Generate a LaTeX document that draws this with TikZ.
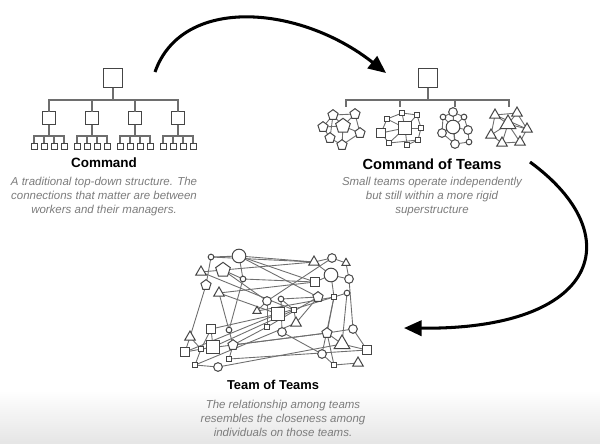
\documentclass[tikz,border=0pt]{standalone}
\usepackage{fontspec}
\setmainfont{Liberation Sans}
\usepackage{xcolor}
\usepackage{tikz}
\usetikzlibrary{arrows.meta,shapes.geometric}
\definecolor{ink}{HTML}{454545}
\definecolor{wire}{HTML}{6E6E6E}
\definecolor{muted}{HTML}{7C7C7C}
\pgfdeclarelayer{back}
\pgfsetlayers{back,main}
\tikzset{
  member/.style={draw=ink, line width=0.85pt, fill=white, inner sep=0pt, outer sep=0pt},
  box/.style={member, rectangle, line width=1pt, minimum size=#1},
  sqS/.style={member, rectangle, minimum size=0.16cm},
  sqM/.style={member, rectangle, minimum size=0.26cm},
  sqL/.style={member, rectangle, minimum size=0.38cm},
  ciS/.style={member, circle, minimum size=0.17cm},
  ciM/.style={member, circle, minimum size=0.26cm},
  ciL/.style={member, circle, minimum size=0.41cm},
  peM/.style={member, regular polygon, regular polygon sides=5, minimum size=0.32cm},
  peL/.style={member, regular polygon, regular polygon sides=5, minimum size=0.46cm},
  trS/.style={member, regular polygon, regular polygon sides=3, minimum size=0.28cm},
  trM/.style={member, regular polygon, regular polygon sides=3, minimum size=0.36cm},
  trL/.style={member, regular polygon, regular polygon sides=3, minimum size=0.54cm},
  link/.style={draw=wire, line width=0.75pt},
  tree/.style={draw=wire, line width=0.9pt},
  bigarrow/.style={draw=black, line width=2.6pt, -{Triangle[length=15pt, width=13pt]}},
  title/.style={font=\bfseries\fontsize{12}{14}\selectfont, text=black, inner sep=0pt},
  caption/.style={font=\itshape\fontsize{9.8}{11.95}\selectfont, text=muted, align=center, inner sep=0pt}
}

\begin{document}
\begin{tikzpicture}[x=0.03cm, y=-0.03cm]
  \useasboundingbox (0,0) rectangle (600,443);
  \begin{pgfonlayer}{back}
    \fill[white] (0,0) rectangle (600,443);
    \shade[top color=white, bottom color=black!10] (0,390) rectangle (600,443);
  \end{pgfonlayer}

  % command
  \node[box=0.57cm] (top) at (113,78) {};
  \foreach \i/\x in {1/49,2/92,3/135,4/178} {
    \node[box=0.39cm] (m\i) at (\x,118) {};
    \draw[tree] (top.south) -- ++(0,12.5) -| (m\i.north);
    \foreach \j/\d in {1/-15,2/-5,3/5,4/15} {
      \node[box=0.18cm, line width=0.8pt] (l\i\j) at ({\x+\d},146) {};
      \draw[tree] (m\i.south) -- ++(0,11.5) -| (l\i\j.north);
    }
  }
  \node[title, font=\bfseries\fontsize{11.5}{14}\selectfont] (cmd) at (104,163) {Command};
  \node[caption, anchor=north] (cmdtxt) at (104,177)
  {A traditional top-down structure. The\\
   connections that matter are between\\
   workers and their managers.};

  % command of teams
  \node[box=0.57cm] (ctop) at (428,78) {};
  \foreach \i/\x in {1/346,2/400,3/455,4/509} {
    \coordinate (ct\i) at (\x,107);
    \draw[tree] (ctop.south) -- ++(0,12.5) -| (ct\i);
  }

  \node[peL] (p0) at (343,126) {};
  \node[peM] (p1) at (333,115) {};
  \node[peM] (p2) at (355,114) {};
  \node[peM] (p3) at (323,127) {};
  \node[peM] (p4) at (360,133) {};
  \node[peM] (p5) at (330,138) {};
  \node[peM] (p6) at (342,145) {};

  \node[sqL] (q0) at (405,128) {};
  \node[sqS] (q1) at (402,113) {};
  \node[sqS] (q2) at (417,115) {};
  \node[sqS] (q3) at (387,119) {};
  \node[sqM] (q4) at (381,133) {};
  \node[sqS] (q5) at (421,128) {};
  \node[sqS] (q6) at (389,143) {};
  \node[sqS] (q7) at (407,145) {};
  \node[sqS] (q8) at (418,140) {};

  \node[ciL] (c0) at (453,127) {};
  \node[ciM] (c1) at (453,112) {};
  \node[ciS] (c2) at (464,117) {};
  \node[ciS] (c3) at (443,117) {};
  \node[ciM] (c4) at (442,133) {};
  \node[ciM] (c5) at (468,130) {};
  \node[ciM] (c6) at (455,144) {};
  \node[ciS] (c7) at (469,142) {};

  \node[trL] (t0) at (508,124) {};
  \node[trM] (t1) at (495,115) {};
  \node[trM] (t2) at (517,113) {};
  \node[trM] (t3) at (527,129) {};
  \node[trM] (t4) at (491,135) {};
  \node[trM] (t5) at (502,143) {};
  \node[trM] (t6) at (520,142) {};

  \begin{pgfonlayer}{back}
    \foreach \a/\b in {1/2,1/0,2/4,3/0,3/5,0/4,0/6,5/6,1/5,2/0,6/4,3/1}
      \draw[link] (p\a) -- (p\b);
    \foreach \a/\b in {1/0,1/2,3/0,3/4,4/0,0/5,2/5,0/7,6/0,6/8,5/8,3/1,4/6,2/0,7/8}
      \draw[link] (q\a) -- (q\b);
    \foreach \a/\b in {1/0,1/2,3/0,3/4,4/0,0/5,2/5,0/6,6/7,5/7,4/6,3/1,2/0,1/6}
      \draw[link] (c\a) -- (c\b);
    \foreach \a/\b in {1/2,1/0,2/3,0/3,4/0,4/5,0/5,5/6,3/6,1/4,2/0,0/6,1/3}
      \draw[link] (t\a) -- (t\b);
  \end{pgfonlayer}

  \node[title, font=\bfseries\fontsize{12.5}{14}\selectfont] (cot) at (432,164) {Command of Teams};
  \node[caption, anchor=north] (cottxt) at (432,177)
  {Small teams operate independently\\
   but still within a more rigid\\
   superstructure};

  % team of teams
  \node[ciS] (n1) at (211,257) {};
  \node[ciL] (n2) at (239,256) {};
  \node[trM] (n3) at (201,272) {};
  \node[peL] (n4) at (223,270) {};
  \node[ciS] (n5) at (243,279) {};
  \node[peM] (n6) at (206,285) {};
  \node[trM] (n7) at (219,293) {};
  \node[ciM] (n8) at (267,301) {};
  \node[ciS] (n9) at (281,299) {};
  \node[trS] (n10) at (257,311) {};
  \node[sqL] (n11) at (278,314) {};
  \node[sqS] (n12) at (294,310) {};
  \node[trM] (n13) at (296,323) {};
  \node[sqS] (n14) at (267,327) {};
  \node[ciM] (n15) at (282,332) {};
  \node[ciS] (n16) at (229,330) {};
  \node[sqM] (n17) at (211,329) {};
  \node[trM] (n18) at (190,337) {};
  \node[sqS] (n19) at (201,349) {};
  \node[sqL] (n20) at (213,347) {};
  \node[peM] (n21) at (233,345) {};
  \node[sqM] (n22) at (185,352) {};
  \node[sqS] (n23) at (229,359) {};
  \node[sqS] (n24) at (195,365) {};
  \node[ciM] (n25) at (218,367) {};
  \node[trM] (n26) at (314,262) {};
  \node[ciM] (n27) at (332,258) {};
  \node[trS] (n28) at (346,263) {};
  \node[ciL] (n29) at (331,275) {};
  \node[ciM] (n30) at (349,279) {};
  \node[sqM] (n31) at (315,282) {};
  \node[peM] (n32) at (318,297) {};
  \node[sqS] (n33) at (334,297) {};
  \node[ciS] (n34) at (347,293) {};
  \node[ciM] (n35) at (353,329) {};
  \node[peM] (n36) at (327,333) {};
  \node[trL] (n37) at (342,344) {};
  \node[sqM] (n38) at (367,350) {};
  \node[ciM] (n39) at (322,354) {};
  \node[sqS] (n40) at (334,365) {};
  \node[trM] (n41) at (358,363) {};

  \begin{pgfonlayer}{back}
    \foreach \a/\b in {1/2,2/26,2/31,1/6,3/4,4/5,4/26,2/5,5/31,5/16,6/18,7/31,
                       7/16,4/8,8/10,8/14,9/12,9/15,11/34,12/13,14/21,14/32,
                       15/39,16/21,17/19,17/20,18/19,18/22,19/24,20/22,21/23,
                       21/36,24/25,24/13,23/38,26/27,27/28,26/29,29/30,29/33,
                       31/29,32/13,33/36,33/39,34/37,30/35,35/36,35/38,36/37,
                       36/40,37/38,39/40,40/41,3/12,1/26,7/11,20/12,19/36,
                       25/37,10/33,8/27,2/32,22/11,28/30,32/9,11/17}
      \draw[link] (n\a) -- (n\b);
  \end{pgfonlayer}

  \node[title, font=\bfseries\fontsize{11}{14}\selectfont] (tot) at (273,385) {Team of Teams};
  \node[caption, anchor=north] (tottxt) at (283,400)
  {The relationship among teams\\
   resembles the closeness among\\
   individuals on those teams.};

  % arrows
  \coordinate (a1s) at (155,72);
  \coordinate (a1e) at (386,73);
  \coordinate (a2s) at (530,162);
  \coordinate (a2e) at (404,328);
  \draw[bigarrow] (a1s) .. controls (182,-5) and (300,5) .. (a1e);
  \draw[bigarrow] (a2s) .. controls (630,235) and (600,330) .. (a2e);
\end{tikzpicture}
\end{document}
